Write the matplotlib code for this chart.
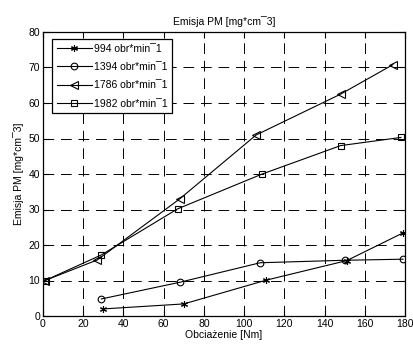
import matplotlib

matplotlib.use("Agg")

import matplotlib.pyplot as plt

plt.rcParams.update(
    {
        "font.family": ["Liberation Sans", "DejaVu Sans"],
        "font.size": 7.5,
        "xtick.direction": "in",
        "ytick.direction": "in",
    }
)

# Obciążenie [Nm] i emisja PM dla kolejnych prędkości obrotowych
load_994 = [30, 70, 111, 151, 179]
pm_994 = [2.0, 3.4, 10.1, 15.6, 23.4]
load_1394 = [29, 68, 108, 150, 179]
pm_1394 = [4.8, 9.5, 15.0, 15.7, 16.0]
load_1786 = [1, 27, 68, 106, 148, 174]
pm_1786 = [10.0, 15.8, 33.0, 51.0, 62.5, 70.8]
load_1982 = [1, 29, 67, 109, 148, 178]
pm_1982 = [10.0, 17.2, 30.2, 40.0, 48.0, 50.3]

labels = [
    "994 obr*min\u00af1",
    "1394 obr*min\u00af1",
    "1786 obr*min\u00af1",
    "1982 obr*min\u00af1",
]

figure = plt.figure(figsize=(4.14, 3.44), dpi=100)
axis = figure.add_axes((43 / 414, 28 / 344, 362 / 414, 284 / 344))

common = {"color": "black", "linewidth": 0.8, "markerfacecolor": "none",
          "markeredgecolor": "black", "markeredgewidth": 0.8}
axis.plot(load_994, pm_994, marker=(6, 2, 0), markersize=5, label=labels[0], **common)
axis.plot(load_1394, pm_1394, marker="o", markersize=4.8, label=labels[1], **common)
axis.plot(load_1786, pm_1786, marker="<", markersize=5.5, label=labels[2], **common)
axis.plot(load_1982, pm_1982, marker="s", markersize=4.8, label=labels[3], **common)

axis.set_xlim(0, 180)
axis.set_ylim(0, 80)
axis.set_xticks(range(0, 181, 20))
axis.set_yticks(range(0, 81, 10))
axis.grid(True, color="black", linestyle=(0, (11, 7)), linewidth=0.7)
for spine in axis.spines.values():
    spine.set_linewidth(0.9)
axis.tick_params(top=True, right=True, length=4, width=0.8, pad=2)

axis.set_title("Emisja PM [mg*cm\u00af3]", fontsize=7.5, pad=5)
axis.set_xlabel("Obcia\u017cenie [Nm]", labelpad=1)
axis.set_ylabel("Emisja PM [mg*cm\u00af3]", labelpad=3)

legend = axis.legend(
    loc="upper left",
    bbox_to_anchor=(0.025, 0.975),
    borderaxespad=0,
    fancybox=False,
    framealpha=1,
    edgecolor="black",
    handlelength=3.4,
    handletextpad=0.15,
    borderpad=0.45,
    labelspacing=0.8,
)
legend.get_frame().set_linewidth(0.9)

figure.savefig("out.png", dpi=100)
